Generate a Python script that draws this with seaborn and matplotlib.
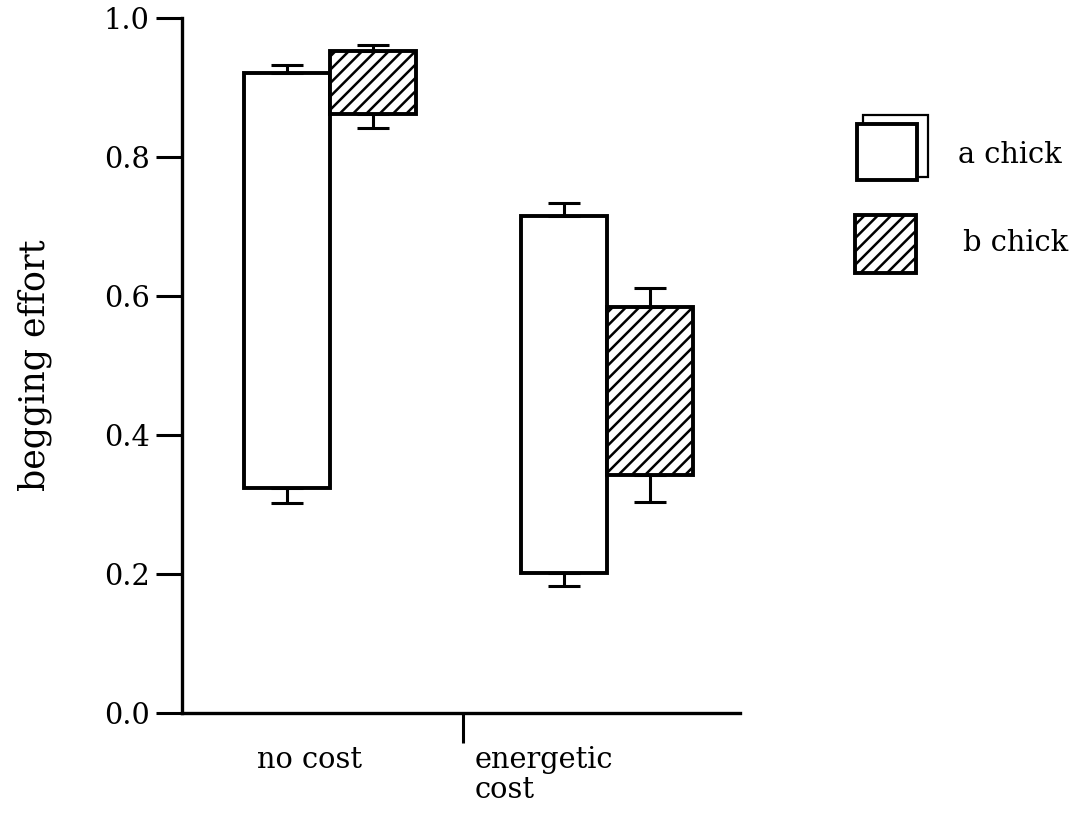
import pandas as pd
import seaborn as sns
import matplotlib.pyplot as plt
from matplotlib.patches import Rectangle
from matplotlib.transforms import blended_transform_factory

conditions = ["no cost", "no cost", "energetic cost", "energetic cost"]
chicks = ["a chick", "b chick", "a chick", "b chick"]
low = [0.324, 0.862, 0.201, 0.342]
high = [0.921, 0.953, 0.715, 0.584]
err_low = [0.302, 0.842, 0.183, 0.304]
err_high = [0.932, 0.961, 0.734, 0.612]

df = pd.DataFrame({"condition": conditions, "chick": chicks,
                   "low": low, "high": high,
                   "err_low": err_low, "err_high": err_high})

sns.set_style("ticks")
plt.rcParams['font.family'] = ['DejaVu Serif']
plt.rcParams['hatch.linewidth'] = 0.9
plt.rcParams['text.color'] = 'black'
plt.rcParams['ytick.labelcolor'] = 'black'
fs = 10.4
hatch = "/////"

fig = plt.figure(figsize=(5.39, 4.11), dpi=200)
ax = fig.add_axes([0.1688, 0.1326, 0.5177, 0.8455])

sns.barplot(data=df, x="condition", y="high", hue="chick",
            order=["no cost", "energetic cost"], hue_order=["a chick", "b chick"],
            palette=["white", "white"], edgecolor="black", linewidth=1.4,
            width=0.62, errorbar=None, legend=False, ax=ax)

# turn the bars into floating range bars
centers = []
for p in ax.patches:
    xc = p.get_x() + p.get_width() / 2
    cat = int(round(xc))
    hue = 0 if xc < cat else 1
    row = df[(df["condition"] == ["no cost", "energetic cost"][cat]) &
             (df["chick"] == ["a chick", "b chick"][hue])].iloc[0]
    p.set_y(row["low"])
    p.set_height(row["high"] - row["low"])
    if hue == 1:
        p.set_hatch(hatch)
    centers.append((xc, row))

for xc, row in centers:
    ax.errorbar([xc], [row["high"]], yerr=[[0], [row["err_high"] - row["high"]]],
                fmt="none", ecolor="black", elinewidth=1.1, capsize=5.8, capthick=1.1)
    ax.errorbar([xc], [row["low"]], yerr=[[row["low"] - row["err_low"]], [0]],
                fmt="none", ecolor="black", elinewidth=1.1, capsize=5.8, capthick=1.1)

sns.despine(ax=ax)
ax.set_ylim(0, 1.0)
ax.set_xlim(-0.534, 1.48)
ax.set_yticks([0.0, 0.2, 0.4, 0.6, 0.8, 1.0])
ax.set_xticks([0.48])
ax.set_xticklabels([""])
ax.tick_params(axis="y", length=9.4, width=1.1, pad=2.2, labelsize=fs,
               color="black", labelcolor="black")
ax.tick_params(axis="x", length=10.8, width=1.1, color="black")
for s in ["left", "bottom"]:
    ax.spines[s].set_linewidth(1.2)
    ax.spines[s].set_color("black")
ax.set_xlabel("")
ax.set_ylabel("begging effort", fontsize=12.5, color="black")
ax.yaxis.set_label_coords(-0.232, 0.5)

tr = blended_transform_factory(ax.transData, ax.transAxes)
ax.text(-0.072, -0.0791, "no cost", transform=tr, ha="center", va="baseline", fontsize=fs)
ax.text(0.523, -0.0791, "energetic", transform=tr, ha="left", va="baseline", fontsize=fs)
ax.text(0.523, -0.1223, "cost", transform=tr, ha="left", va="baseline", fontsize=fs)

# legend drawn by hand
fig.add_artist(Rectangle((0.8006, 0.7847), 0.0603, 0.0754, transform=fig.transFigure,
                         facecolor="white", edgecolor="black", linewidth=0.8))
fig.add_artist(Rectangle((0.795, 0.781), 0.0557, 0.0681, transform=fig.transFigure,
                         facecolor="white", edgecolor="black", linewidth=1.4))
fig.add_artist(Rectangle((0.7931, 0.6679), 0.0566, 0.0706, transform=fig.transFigure,
                         facecolor="white", edgecolor="black", linewidth=1.4, hatch=hatch))
fig.text(0.8887, 0.8114, "a chick", va="center", ha="left", fontsize=fs)
fig.text(0.8933, 0.7044, "b chick", va="center", ha="left", fontsize=fs)

fig.savefig("out.png", dpi=200)
